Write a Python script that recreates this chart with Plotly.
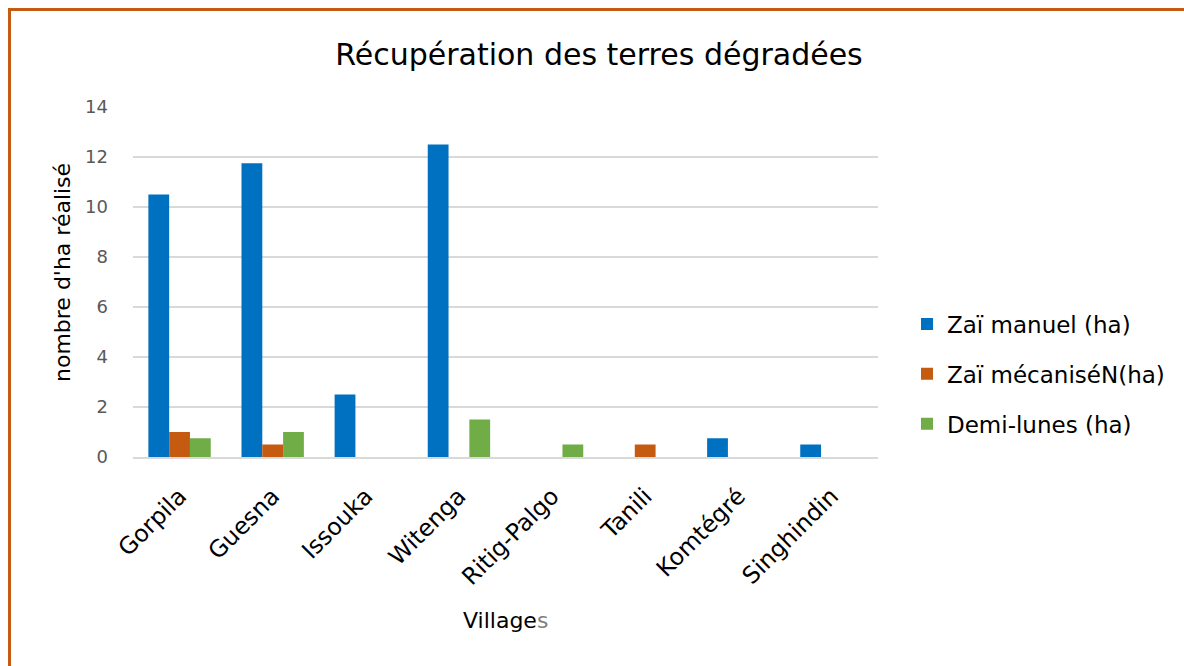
import plotly.graph_objects as go

villages = ["Gorpila", "Guesna", "Issouka", "Witenga", "Ritig-Palgo", "Tanili", "Komtégré", "Singhindin"]
zai_manuel = [10.5, 11.75, 2.5, 12.5, 0, 0, 0.75, 0.5]
zai_mecanise = [1, 0.5, 0, 0, 0, 0.5, 0, 0]
demi_lunes = [0.75, 1, 0, 1.5, 0.5, 0, 0, 0]
series_names = ["Zaï manuel (ha)", "Zaï mécaniséN(ha)", "Demi-lunes (ha)"]
colors = ["#0070C0", "#C55A11", "#70AD47"]
y_ticks = [0, 2, 4, 6, 8, 10, 12, 14]

FONT = "DejaVu Sans"
W, H = 1184, 666
L, R, T, B = 133, 306, 107, 209
pw, ph = W - L - R, H - T - B

def px_x(x):
    return (x - L) / pw

def px_y(y):
    return (H - y - B) / ph

fig = go.Figure()
for name, vals, col, grp in zip(series_names, [zai_manuel, zai_mecanise, demi_lunes], colors, ["a", "b", "c"]):
    fig.add_trace(go.Bar(x=villages, y=vals, name=name, marker_color=col,
                         marker_line_width=0, legendgroup=grp))

fig.update_layout(
    width=W, height=H,
    margin=dict(l=L, r=R, t=T, b=B),
    paper_bgcolor="white", plot_bgcolor="white",
    barmode="group", bargap=0.33, bargroupgap=0,
    font=dict(family=FONT, color="#000000"),
    title=dict(text="Récupération des terres dégradées", x=px_x(599), xref="paper", xanchor="center",
               y=1 - 54 / H, yanchor="middle", font=dict(size=30, color="#000000", family=FONT)),
    legend=dict(x=px_x(907), y=px_y(374), xanchor="left", yanchor="middle",
                font=dict(size=23, color="#000000", family=FONT), tracegroupgap=17,
                itemwidth=30, bgcolor="rgba(0,0,0,0)"),
    xaxis=dict(tickangle=-45, tickfont=dict(size=23.5, color="#000000", family=FONT),
               showgrid=False, showline=True, linecolor="#D9D9D9", linewidth=2, ticks="",
               ticklabelstandoff=14),
    yaxis=dict(range=[0, 14], tickvals=y_ticks, tickfont=dict(size=18, color="#595959", family=FONT),
               showgrid=True, gridcolor="#D9D9D9", gridwidth=1.5, zeroline=False,
               showline=False, ticks="", ticklabelstandoff=24),
    annotations=[
        dict(text="nombre d'ha réalisé", x=px_x(62), y=px_y(273), xref="paper", yref="paper",
             textangle=-90, showarrow=False, font=dict(size=22, color="#000000", family=FONT),
             xanchor="center", yanchor="middle"),
        dict(text="Village<span style='color:#7F7F7F'>s</span>", x=px_x(505), y=px_y(620),
             xref="paper", yref="paper", showarrow=False,
             font=dict(size=22, color="#000000", family=FONT), xanchor="center", yanchor="middle"),
    ],
    shapes=[
        dict(type="line", xref="paper", yref="paper", x0=px_x(9.5), x1=px_x(W + 5),
             y0=px_y(9.5), y1=px_y(9.5), line=dict(color="#C55A11", width=3)),
        dict(type="line", xref="paper", yref="paper", x0=px_x(9.5), x1=px_x(9.5),
             y0=px_y(8), y1=px_y(H + 5), line=dict(color="#C55A11", width=3)),
    ],
)

fig.write_html("out.html", config={"displayModeBar": False},
               post_script="document.body.style.margin='0';document.body.style.overflow='hidden';")
